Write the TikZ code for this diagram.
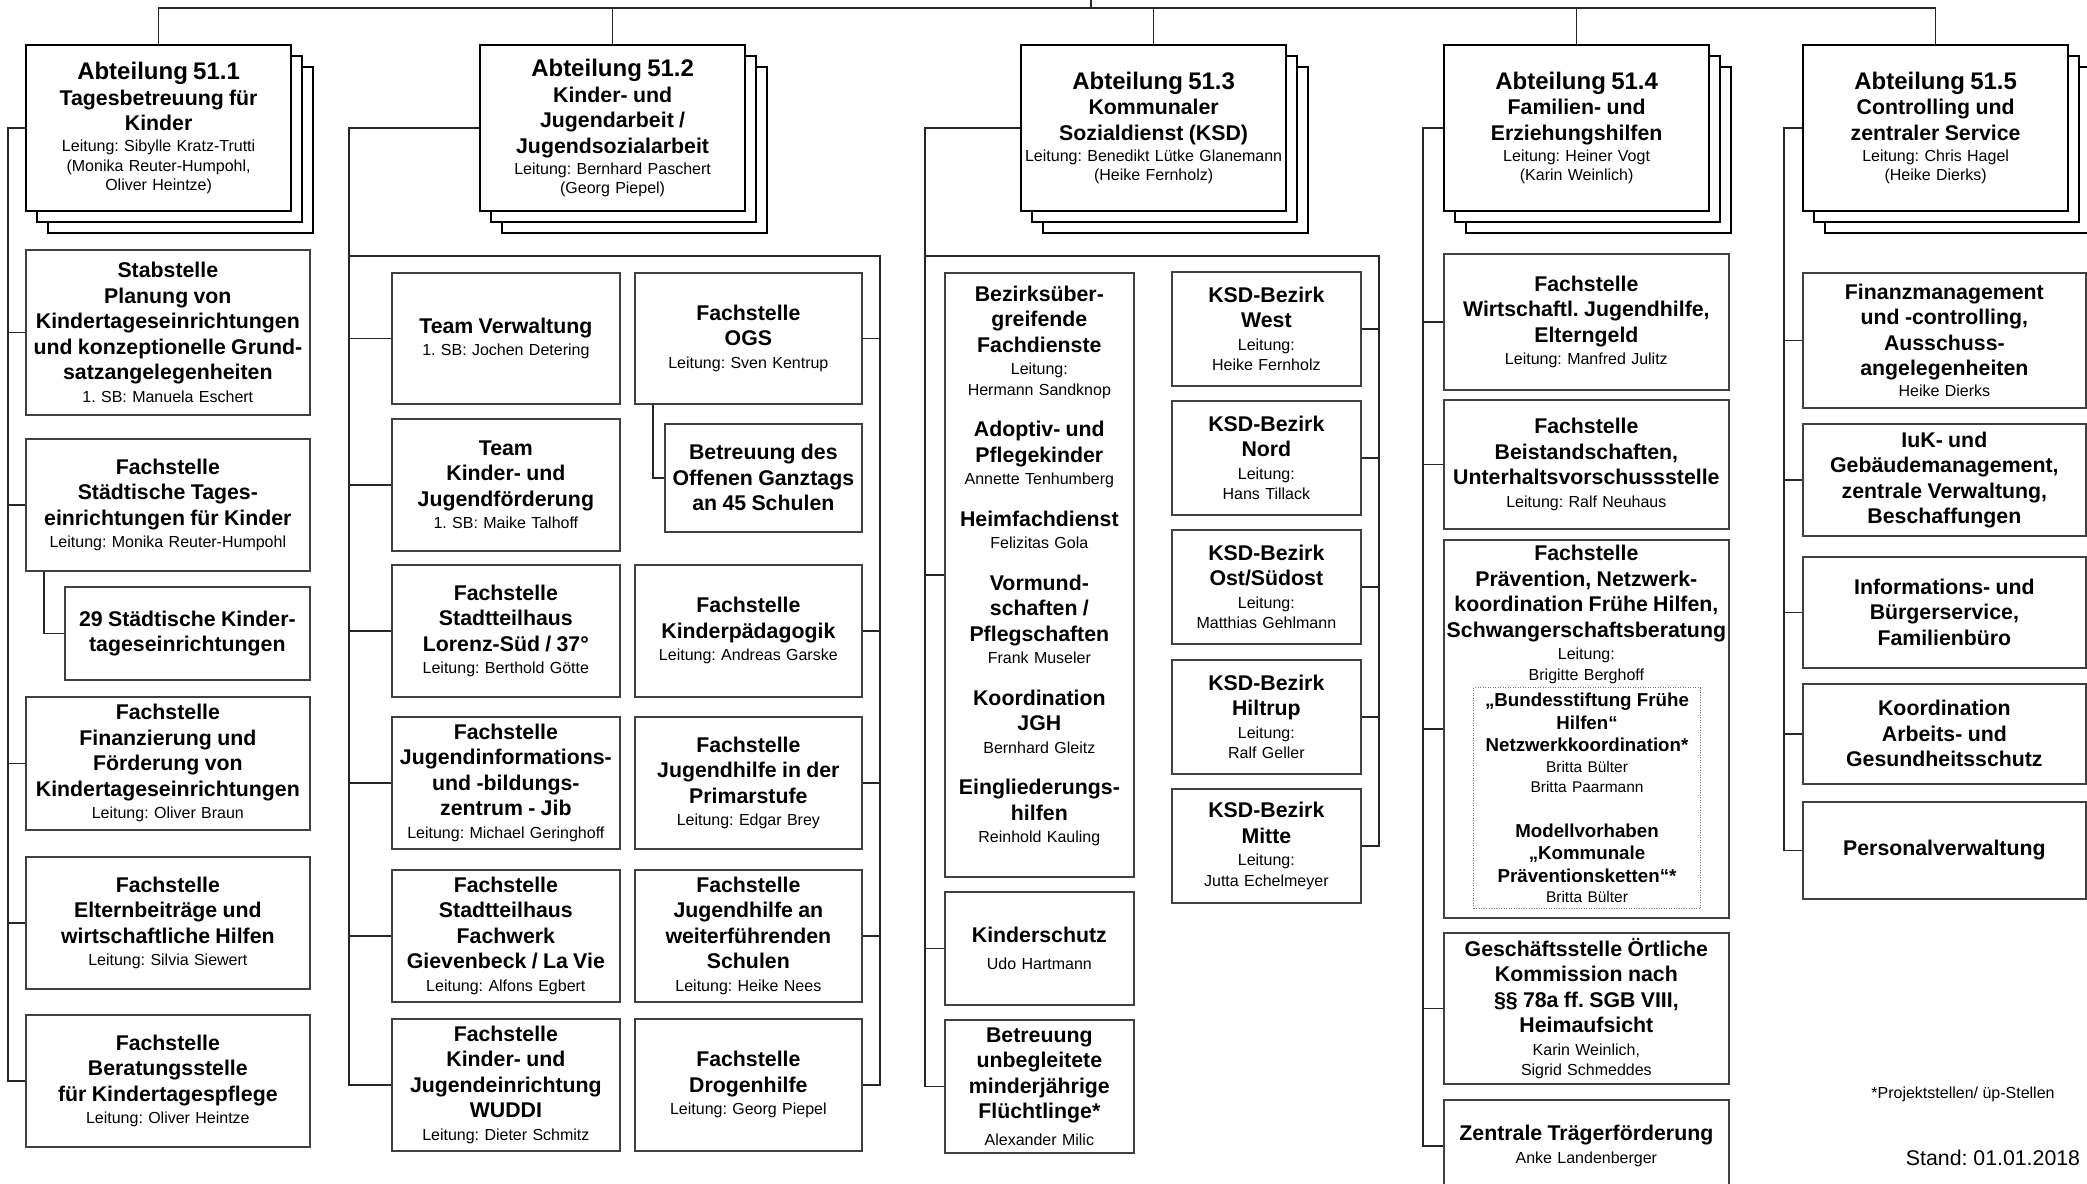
\documentclass[tikz,border=0pt]{standalone}
\usepackage{fontspec}
\setmainfont{Liberation Sans}
\usetikzlibrary{calc,shadows}
\frenchspacing

% text blocks inside the boxes
\newcommand\UnitTitle[1]{{\fontsize{24}{28}\selectfont\bfseries #1\par}}
\newcommand\UnitSub[1]{{\fontsize{21.3}{25.5}\selectfont\bfseries #1\par}}
\newcommand\UnitLead[1]{\vspace{1.5pt}{\fontsize{16}{19.5}\selectfont #1\par}}
\newcommand\BoxTitle[1]{{\fontsize{21.3}{25.5}\selectfont\bfseries #1\par}}
\newcommand\BoxName[1]{\vspace{2pt}{\fontsize{16}{20.5}\selectfont #1\par}}
\newcommand\ProjTitle[1]{{\fontsize{18.7}{22.5}\selectfont\bfseries #1\par}}
\newcommand\ProjName[1]{{\fontsize{15.5}{20.5}\selectfont #1\par}}

\tikzset{
	unitbox/.style={draw, line width=2.2pt, fill=white, anchor=north west, align=center,
		text width=265pt, minimum height=166pt, inner xsep=0pt, inner ysep=0pt,
		font=\fontsize{16}{20}\selectfont,
		copy shadow={shadow xshift=22pt, shadow yshift=-22pt, draw, fill=white, opacity=1, line width=2.2pt},
		copy shadow={shadow xshift=11pt, shadow yshift=-11pt, draw, fill=white, opacity=1, line width=2.2pt}},
	subbox/.style={draw=black!75, line width=1.7pt, fill=white, anchor=north west, align=center,
		inner xsep=0pt, inner ysep=0pt, font=\fontsize{16}{20}\selectfont},
	orgbox/.style 2 args={subbox, text width=#1, minimum height=#2},
	projbox/.style={draw=black!55, line width=1pt, dash pattern=on 1pt off 1.5pt, anchor=north west,
		align=center, inner xsep=0pt, inner ysep=0pt, font=\fontsize{16}{20}\selectfont},
	link/.style={draw=black!85, line width=1.5pt},
}

\begin{document}
\begin{tikzpicture}[x=1pt, y=-1pt]
	
	% ------------------------------------------------
	% Ensure the dimensions of graphic are appropriate
	\useasboundingbox (0,0) rectangle (2087,1183);
	
	% ------------------------------------------------
	% Relevant coordinates
	\coordinate (Top) at (1091,0);
	\coordinate (Bus) at (0,8);
	
	\coordinate (TrunkA)  at (8,0);
	\coordinate (TrunkB)  at (349,0);
	\path (TrunkB) +(0,256) coordinate (BusB);
	\path (TrunkB) +(531,0) coordinate (TrunkBR);
	\coordinate (TrunkC)  at (925,0);
	\path (TrunkC) +(0,256) coordinate (BusC);
	\path (TrunkC) +(454,0) coordinate (TrunkCR);
	\coordinate (TrunkD)  at (1423,0);
	\coordinate (TrunkE)  at (1784,0);
	
	%%%%%%%%%%%%%%%%%%%%%%%%%%%%%%%%%%%%%%%%%
	% Abteilungen
	\node[unitbox] (A1) at (25,44) {\UnitTitle{Abteilung 51.1}\UnitSub{Tagesbetreuung für\\Kinder}\UnitLead{Leitung: Sibylle Kratz-Trutti\\(Monika Reuter-Humpohl,\\Oliver Heintze)}};
	\node[unitbox] (A2) at (479,44) {\UnitTitle{Abteilung 51.2}\UnitSub{Kinder- und\\Jugendarbeit /\\Jugendsozialarbeit}\UnitLead{Leitung: Bernhard Paschert\\(Georg Piepel)}};
	\node[unitbox] (A3) at (1020,44) {\UnitTitle{Abteilung 51.3}\UnitSub{Kommunaler\\Sozialdienst (KSD)}\UnitLead{Leitung: Benedikt Lütke Glanemann\\(Heike Fernholz)}};
	\node[unitbox] (A4) at (1443,44) {\UnitTitle{Abteilung 51.4}\UnitSub{Familien- und\\Erziehungshilfen}\UnitLead{Leitung: Heiner Vogt\\(Karin Weinlich)}};
	\node[unitbox] (A5) at (1802,44) {\UnitTitle{Abteilung 51.5}\UnitSub{Controlling und\\zentraler Service}\UnitLead{Leitung: Chris Hagel\\(Heike Dierks)}};
	
	% ------------------------------------------------
	% 51.1
	\node[orgbox={284pt}{165pt}] (C1) at (25,249) {\BoxTitle{Stabstelle\\Planung von\\Kindertageseinrichtungen\\und konzeptionelle Grund-\\satzangelegenheiten}\BoxName{1. SB: Manuela Eschert}};
	\node[orgbox={284pt}{132pt}] (C2) at (25,438) {\BoxTitle{Fachstelle\\Städtische Tages-\\einrichtungen für Kinder}\BoxName{Leitung: Monika Reuter-Humpohl}};
	\node[orgbox={245pt}{93pt}] (C3) at (64,586) {\BoxTitle{29 Städtische Kinder-\\tageseinrichtungen}};
	\node[orgbox={284pt}{133pt}] (C4) at (25,696) {\BoxTitle{Fachstelle\\Finanzierung und\\Förderung von\\Kindertageseinrichtungen}\BoxName{Leitung: Oliver Braun}};
	\node[orgbox={284pt}{132pt}] (C5) at (25,856) {\BoxTitle{Fachstelle\\Elternbeiträge und\\wirtschaftliche Hilfen}\BoxName{Leitung: Silvia Siewert}};
	\node[orgbox={284pt}{132pt}] (C6) at (25,1014) {\BoxTitle{Fachstelle\\Beratungsstelle\\für Kindertagespflege}\BoxName{Leitung: Oliver Heintze}};
	
	% ------------------------------------------------
	% 51.2
	\node[orgbox={228pt}{131pt}] (Verw) at (391,272) {\BoxTitle{Team Verwaltung}\BoxName{1. SB: Jochen Detering}};
	\node[orgbox={227pt}{131pt}] (OGS) at (634,272) {\BoxTitle{Fachstelle\\OGS}\BoxName{Leitung: Sven Kentrup}};
	\node[orgbox={197pt}{108pt}] (Ganztag) at (664,423) {\BoxTitle{Betreuung des\\Offenen Ganztags\\an 45 Schulen}};
	\node[orgbox={228pt}{132pt}] (Foerd) at (391,418) {\BoxTitle{Team\\Kinder- und\\Jugendförderung}\BoxName{1. SB: Maike Talhoff}};
	\node[orgbox={228pt}{132pt}] (Lorenz) at (391,564) {\BoxTitle{Fachstelle\\Stadtteilhaus\\Lorenz-Süd / 37°}\BoxName{Leitung: Berthold Götte}};
	\node[orgbox={227pt}{132pt}] (Kinderpaed) at (634,564) {\BoxTitle{Fachstelle\\Kinderpädagogik}\BoxName{Leitung: Andreas Garske}};
	\node[orgbox={228pt}{132pt}] (Jib) at (391,716) {\BoxTitle{Fachstelle\\Jugendinformations-\\und -bildungs-\\zentrum - Jib}\BoxName{Leitung: Michael Geringhoff}};
	\node[orgbox={227pt}{132pt}] (Primar) at (634,716) {\BoxTitle{Fachstelle\\Jugendhilfe in der\\Primarstufe}\BoxName{Leitung: Edgar Brey}};
	\node[orgbox={228pt}{132pt}] (Fachwerk) at (391,869) {\BoxTitle{Fachstelle\\Stadtteilhaus\\Fachwerk\\Gievenbeck / La Vie}\BoxName{Leitung: Alfons Egbert}};
	\node[orgbox={227pt}{132pt}] (Weiterf) at (634,869) {\BoxTitle{Fachstelle\\Jugendhilfe an\\weiterführenden\\Schulen}\BoxName{Leitung: Heike Nees}};
	\node[orgbox={228pt}{132pt}] (Wuddi) at (391,1018) {\BoxTitle{Fachstelle\\Kinder- und\\Jugendeinrichtung\\WUDDI}\BoxName{Leitung: Dieter Schmitz}};
	\node[orgbox={227pt}{132pt}] (Drogen) at (634,1018) {\BoxTitle{Fachstelle\\Drogenhilfe}\BoxName{Leitung: Georg Piepel}};
	
	% ------------------------------------------------
	% 51.3
	\node[orgbox={189pt}{604pt}] (Bezirk) at (944,272) {\BoxTitle{Bezirksüber-\\greifende\\Fachdienste}\BoxName{Leitung:\\Hermann Sandknop}\vspace{16pt}\BoxTitle{Adoptiv- und\\Pflegekinder}\BoxName{Annette Tenhumberg}\vspace{16pt}\BoxTitle{Heimfachdienst}\BoxName{Felizitas Gola}\vspace{16pt}\BoxTitle{Vormund-\\schaften /\\Pflegschaften}\BoxName{Frank Museler}\vspace{16pt}\BoxTitle{Koordination\\JGH}\BoxName{Bernhard Gleitz}\vspace{16pt}\BoxTitle{Eingliederungs-\\hilfen}\BoxName{Reinhold Kauling}\vspace{18pt}\hrule height 0pt};
	\node[orgbox={189pt}{113pt}] (KSchutz) at (944,891) {\BoxTitle{Kinderschutz}\vspace{5pt}\BoxName{Udo Hartmann}};
	\node[orgbox={189pt}{133pt}] (Flucht) at (944,1019) {\BoxTitle{Betreuung\\unbegleitete\\minderjährige\\Flüchtlinge*}\vspace{4pt}\BoxName{Alexander Milic}};
	
	\node[orgbox={189pt}{114pt}] (West) at (1171,271) {\BoxTitle{KSD-Bezirk\\West}\BoxName{Leitung:\\Heike Fernholz}};
	\node[orgbox={189pt}{114pt}] (Nord) at (1171,400) {\BoxTitle{KSD-Bezirk\\Nord}\BoxName{Leitung:\\Hans Tillack}};
	\node[orgbox={189pt}{114pt}] (Ost) at (1171,529) {\BoxTitle{KSD-Bezirk\\Ost/Südost}\BoxName{Leitung:\\Matthias Gehlmann}};
	\node[orgbox={189pt}{114pt}] (Hiltrup) at (1171,659) {\BoxTitle{KSD-Bezirk\\Hiltrup}\BoxName{Leitung:\\Ralf Geller}};
	\node[orgbox={189pt}{114pt}] (Mitte) at (1171,788) {\BoxTitle{KSD-Bezirk\\Mitte}\BoxName{Leitung:\\Jutta Echelmeyer}};
	
	% ------------------------------------------------
	% 51.4
	\node[orgbox={285pt}{136pt}] (Wirt) at (1443,253) {\BoxTitle{Fachstelle\\Wirtschaftl. Jugendhilfe,\\Elterngeld}\BoxName{Leitung: Manfred Julitz}};
	\node[orgbox={285pt}{129pt}] (Beist) at (1443,399) {\BoxTitle{Fachstelle\\Beistandschaften,\\Unterhaltsvorschussstelle}\BoxName{Leitung: Ralf Neuhaus}};
	\node[orgbox={285pt}{378pt}] (Praev) at (1443,539) {};
	\node[anchor=north, align=center, text width=285pt, inner sep=0pt, font=\fontsize{16}{20}\selectfont] (PraevText) at ($(Praev.north)+(0,6)$) {\BoxTitle{Fachstelle\\Prävention, Netzwerk-\\koordination Frühe Hilfen,\\Schwangerschaftsberatung}\BoxName{Leitung:\\Brigitte Berghoff}};
	\node[projbox, text width=227pt, minimum height=221pt] (Proj) at (1473,687) {\ProjTitle{„Bundesstiftung Frühe\\Hilfen“\\Netzwerkkoordination*}\ProjName{Britta Bülter\\Britta Paarmann}\vspace{22pt}\ProjTitle{Modellvorhaben\\„Kommunale\\Präventionsketten“*}\ProjName{Britta Bülter}};
	\node[orgbox={285pt}{151pt}] (Gesch) at (1443,932) {\BoxTitle{Geschäftsstelle Örtliche\\Kommission nach\\§§ 78a ff. SGB VIII,\\Heimaufsicht}\BoxName{Karin Weinlich,\\Sigrid Schmeddes}};
	\node[orgbox={285pt}{92pt}] (Zentral) at (1443,1099) {\BoxTitle{Zentrale Trägerförderung}\BoxName{Anke Landenberger}};
	
	% ------------------------------------------------
	% 51.5
	\node[orgbox={283pt}{135pt}] (Finanz) at (1802,272) {\BoxTitle{Finanzmanagement\\und -controlling,\\Ausschuss-\\angelegenheiten}\vspace{-2pt}\BoxName{Heike Dierks}};
	\node[orgbox={283pt}{112pt}] (IuK) at (1802,423) {\BoxTitle{IuK- und\\Gebäudemanagement,\\zentrale Verwaltung,\\Beschaffungen}};
	\node[orgbox={283pt}{111pt}] (Info) at (1802,556) {\BoxTitle{Informations- und\\Bürgerservice,\\Familienbüro}};
	\node[orgbox={283pt}{100pt}] (Koord) at (1802,683) {\BoxTitle{Koordination\\Arbeits- und\\Gesundheitsschutz}};
	\node[orgbox={283pt}{97pt}] (Personal) at (1802,801) {\BoxTitle{Personalverwaltung}};
	
	% Footnotes
	\node[font=\fontsize{16}{19}\selectfont] (Note) at (1963,1094) {*Projektstellen/ üp-Stellen};
	\node[font=\fontsize{21.3}{25}\selectfont] (Stand) at (1993,1158) {Stand: 01.01.2018};
	
	%%%%%%%%%%%%%%%%%%%%%%%%%%%%%%%%%%%%%%%%%
	% Connectors
	\draw[link] (A1.north) |- (Bus -| A5.north) -- (A5.north);
	\foreach \u in {A2,A3,A4}
		\draw[link] (\u.north) -- (\u.north |- Bus);
	\draw[link] (Top) -- (Top |- Bus);
	
	% 51.1
	\draw[link] (A1.west) -| (C6.west -| TrunkA) -- (C6.west);
	\foreach \b in {C1,C2,C4,C5}
		\draw[link] (\b.west) -- (\b.west -| TrunkA);
	\draw[link] ($(C2.south west)+(19,0)$) |- (C3.west);
	
	% 51.2
	\draw[link] (A2.west) -| (Wuddi.west -| TrunkB) -- (Wuddi.west);
	\foreach \b in {Verw,Foerd,Lorenz,Jib,Fachwerk}
		\draw[link] (\b.west) -- (\b.west -| TrunkB);
	\draw[link] (BusB) -| (Drogen.east -| TrunkBR) -- (Drogen.east);
	\foreach \b in {OGS,Kinderpaed,Primar,Weiterf}
		\draw[link] (\b.east) -- (\b.east -| TrunkBR);
	\draw[link] ($(OGS.south west)+(19,0)$) |- (Ganztag.west);
	
	% 51.3
	\draw[link] (A3.west) -| (Flucht.west -| TrunkC) -- (Flucht.west);
	\foreach \b in {Bezirk,KSchutz}
		\draw[link] (\b.west) -- (\b.west -| TrunkC);
	\draw[link] (BusC) -| (Mitte.east -| TrunkCR) -- (Mitte.east);
	\foreach \b in {West,Nord,Ost,Hiltrup}
		\draw[link] (\b.east) -- (\b.east -| TrunkCR);
	
	% 51.4
	\draw[link] (A4.west) -| (Zentral.west -| TrunkD) -- (Zentral.west);
	\foreach \b in {Wirt,Beist,Praev,Gesch}
		\draw[link] (\b.west) -- (\b.west -| TrunkD);
	
	% 51.5
	\draw[link] (A5.west) -| (Personal.west -| TrunkE) -- (Personal.west);
	\foreach \b in {Finanz,IuK,Info,Koord}
		\draw[link] (\b.west) -- (\b.west -| TrunkE);
	
\end{tikzpicture}
\end{document}
